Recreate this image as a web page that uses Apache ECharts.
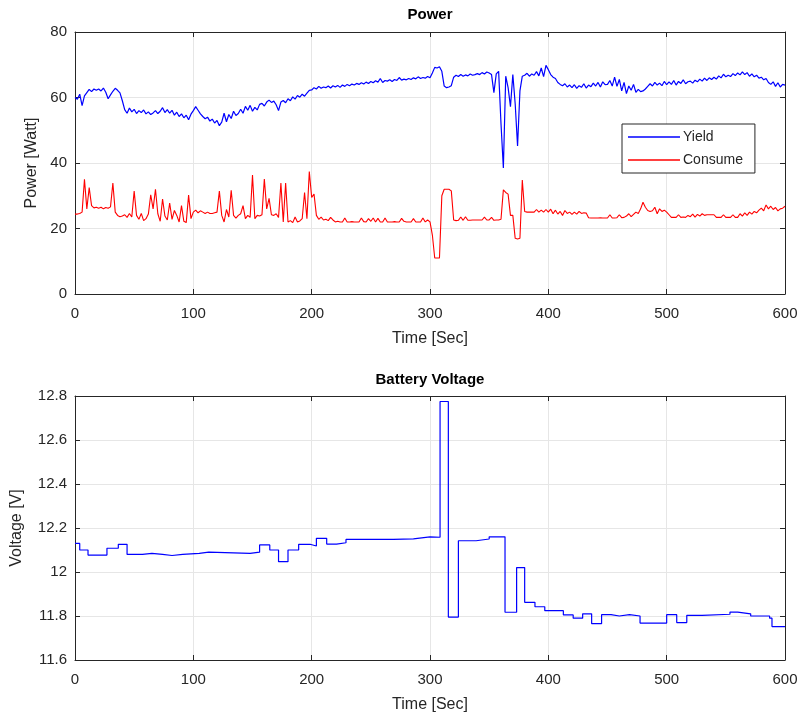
<!DOCTYPE html>
<html>
<head>
<meta charset="utf-8">
<script src="https://cdn.jsdelivr.net/npm/echarts@6/dist/echarts.min.js"></script>
<style>
  html, body { margin: 0; padding: 0; background: #fff; }
  #chart { width: 803px; height: 718px; }
</style>
</head>
<body>
<div id="chart"></div>
<script>
// sample spacing of the power log, seconds
const step = 2;

// Yield [W], one value every 2 s from 0 to 600
const yieldW = [
  60.0, 59.5, 61.0, 57.5, 60.5, 61.5, 62.5, 61.8, 62.6, 62.2,
  62.6, 62.0, 62.9, 61.6, 59.6, 60.8, 61.9, 62.8, 62.2, 61.4,
  59.0, 56.3, 55.2, 56.8, 55.6, 56.4, 55.1, 56.0, 55.4, 56.2,
  55.0, 55.6, 54.8, 55.3, 56.0, 55.1, 55.8, 56.9, 55.4, 56.3,
  55.2, 56.1, 54.6, 55.5, 54.2, 55.0, 53.8, 54.6, 53.2, 54.9,
  56.0, 57.2, 56.1, 55.0, 54.2, 53.5, 54.0, 52.8, 53.4, 52.2,
  53.0, 51.4, 52.5, 55.2, 52.6, 54.8, 53.6, 55.8, 54.5, 55.1,
  56.4, 55.2, 57.3, 56.1, 57.6, 55.8, 57.0, 56.2, 57.9, 58.2,
  57.4, 58.6, 59.2, 58.5, 58.9, 57.8, 56.0, 58.6, 59.1, 58.4,
  59.6, 59.0, 60.2, 59.5, 60.6, 60.1, 61.0, 60.4, 61.3, 62.2,
  62.3, 63.0, 62.6, 63.4, 62.8, 63.2, 63.0, 63.5, 62.9, 63.6,
  63.2, 63.7, 63.1, 63.8, 63.4, 64.0, 63.6, 64.1, 63.8, 64.3,
  64.0, 64.5, 64.1, 64.7, 64.3, 64.9, 64.5, 65.1, 64.7, 65.8,
  64.6, 65.2, 65.0, 65.4, 64.9, 65.5, 65.2, 66.1, 65.3, 65.6,
  65.4, 65.8, 65.5, 66.0, 65.7, 66.3, 65.8, 66.1, 65.9, 66.4,
  66.0, 67.5, 69.2, 69.0, 69.4, 68.0, 63.5, 63.0, 63.2, 63.6,
  66.2, 66.8, 66.4, 67.0, 66.5, 66.9, 66.6, 67.2, 66.8, 67.0,
  67.3, 67.0, 67.6, 67.2, 67.8, 67.5, 67.0, 61.5, 67.2, 68.0,
  52.0, 38.5, 66.5, 63.0, 57.2, 67.0, 58.0, 45.2, 62.0, 66.5,
  66.8, 67.4, 66.5, 67.2, 66.8, 67.9, 66.6, 69.0, 66.4, 69.8,
  68.5, 67.0, 66.2, 65.8, 64.6, 64.0, 63.6, 64.2, 63.2, 63.8,
  63.0, 63.9, 62.8, 63.6, 63.1, 64.2, 62.9, 63.8, 63.3, 64.4,
  63.5, 64.6, 63.2, 64.8, 63.9, 64.0, 65.2, 63.5, 66.2, 63.4,
  65.5, 62.0, 64.6, 61.2, 63.5, 62.2, 64.0, 61.6, 62.5, 61.8,
  62.0, 62.6, 63.4, 64.2, 63.5, 64.6, 63.8, 64.4, 63.6, 64.9,
  63.9, 64.8, 64.0, 65.2, 63.8, 64.9, 64.3, 65.4, 64.2, 64.8,
  65.0, 64.4, 65.3, 64.8, 65.6, 65.0, 65.9, 65.2, 66.0, 65.5,
  66.2, 65.6, 66.6, 66.0, 67.1, 66.3, 66.8, 66.4, 67.3, 66.7,
  67.5, 66.9, 67.8, 67.0, 67.6, 66.5, 67.2, 66.3, 66.8, 65.9,
  66.2, 65.4, 65.8, 64.6, 64.0, 64.8, 63.4, 64.5, 63.2, 64.0,
  63.8
];

// Consume [W], same sampling
const consumeW = [
  24.4, 24.4, 24.6, 25.0, 35.0, 26.0, 32.5, 27.0, 26.3, 26.5,
  26.2, 26.5, 26.0, 26.4, 26.2, 26.6, 33.9, 25.0, 24.0, 23.6,
  23.8, 24.2, 23.4, 24.6, 23.5, 31.4, 24.0, 22.8, 24.6, 22.4,
  23.0, 24.4, 30.3, 26.0, 32.0, 24.5, 22.2, 29.0, 23.8, 22.6,
  27.8, 22.8, 25.5, 24.0, 22.0, 27.0, 22.2, 21.8, 30.2, 23.0,
  25.0, 25.6, 24.8, 25.4, 25.0, 24.6, 25.0, 24.6, 24.6, 24.8,
  25.0, 31.4, 24.0, 22.0, 25.8, 23.5, 31.7, 24.0, 23.2, 24.0,
  24.5, 27.0, 23.0, 24.0, 23.4, 36.3, 23.0, 24.0, 23.8, 24.2,
  35.1, 26.0, 29.2, 24.2, 24.0, 24.5, 23.4, 33.9, 22.0, 33.9,
  22.0, 22.4, 21.8, 23.5, 22.0, 22.3, 23.0, 31.0, 23.0, 37.4,
  29.5, 30.5, 24.0, 22.8, 23.5, 22.6, 22.8, 22.4, 23.4, 22.6,
  22.0, 22.2, 22.0, 22.0, 23.2, 22.0, 22.0, 22.1, 22.0, 22.0,
  22.0, 23.2, 22.1, 22.0, 23.0, 22.2, 23.2, 22.0, 23.1, 22.0,
  22.0, 23.2, 22.0, 22.0, 22.0, 22.1, 22.0, 22.0, 23.1, 22.2,
  22.0, 22.0, 22.0, 23.0, 22.0, 22.0, 22.0, 23.2, 22.0, 22.6,
  22.0, 18.0, 11.0, 11.0, 11.0, 30.0, 32.0, 32.0, 32.0, 31.5,
  22.6, 22.4, 22.5, 23.5, 22.5, 23.6, 22.5, 22.5, 22.6, 22.6,
  22.6, 22.6, 22.6, 23.5, 22.6, 22.6, 23.4, 22.5, 22.6, 22.6,
  22.8, 31.8, 31.0, 30.5, 24.0, 24.0, 17.0, 16.8, 17.0, 34.8,
  25.2, 25.0, 25.0, 25.0, 25.0, 25.8, 25.0, 25.6, 25.0, 25.8,
  25.0, 25.9, 24.5, 25.6, 24.4, 25.2, 24.0, 25.5, 24.6, 25.0,
  24.3, 25.0, 24.4, 25.2, 24.6, 24.8, 24.7, 23.3, 23.2, 23.2,
  23.2, 23.2, 23.3, 23.2, 23.2, 23.2, 24.2, 23.2, 23.2, 23.3,
  24.2, 23.3, 23.4, 23.8, 24.5, 23.6, 24.3, 25.0, 24.6, 26.0,
  28.0, 26.5, 25.5, 25.2, 25.4, 26.5, 24.5, 26.0, 25.2, 25.6,
  25.0, 24.2, 23.4, 23.4, 23.4, 24.2, 23.4, 23.5, 23.4, 24.0,
  23.6, 24.4, 23.5, 24.3, 23.8, 24.5, 24.0, 24.2, 24.2, 24.2,
  24.2, 23.4, 23.4, 23.4, 24.2, 23.4, 23.4, 23.4, 24.2, 23.4,
  23.4, 24.5, 23.8, 24.8, 24.0, 25.0, 24.4, 25.2, 24.8, 25.6,
  26.2, 25.4, 27.2, 26.0, 26.8, 25.8, 26.4, 25.4, 26.0, 26.2,
  26.8
];

// Battery voltage: times [s] where the reading changes, and the new reading [V]
const voltTimes = [
  0, 4, 11, 27, 36.6, 44, 57, 65, 74, 82, 91, 105, 113, 148, 156, 164.6, 172, 180,
  189, 198.6, 204, 212.7, 221, 229, 269, 286, 300, 308.5, 315.5, 324, 339, 350,
  363.4, 373.2, 380, 388.7, 397, 412.7, 421, 429, 436.6, 445, 453, 460, 468.6,
  477.5, 500, 508.5, 517, 530, 553.5, 560, 571, 587, 589, 600
];
const voltValues = [
  12.13, 12.10, 12.077, 12.108, 12.126, 12.08, 12.085, 12.08, 12.075, 12.08, 12.085,
  12.09, 12.085, 12.09, 12.123, 12.10, 12.047, 12.10, 12.126, 12.118, 12.153, 12.127,
  12.133, 12.148, 12.151, 12.16, 12.158, 12.775, 11.795, 12.142, 12.15, 12.16,
  11.817, 12.02, 11.862, 11.842, 11.824, 11.805, 11.79, 11.81, 11.765, 11.806, 11.80,
  11.806, 11.80, 11.768, 11.806, 11.77, 11.803, 11.808, 11.818, 11.81, 11.80, 11.79,
  11.752, 11.75
];

const timeTicks = [0, 100, 200, 300, 400, 500, 600];

const axisColor = '#262626';
const gridColor = '#e6e6e6';
const fontFamily = 'Liberation Sans, Arial, sans-serif';

const chart = echarts.init(document.getElementById('chart'), null, { renderer: 'canvas' });

function timeAxis(gridIndex, pos, withText) {
  return {
    type: 'value',
    gridIndex: gridIndex,
    position: pos,
    min: timeTicks[0],
    max: timeTicks[timeTicks.length - 1],
    interval: 100,
    name: withText ? 'Time [Sec]' : '',
    nameLocation: 'middle',
    nameGap: 37,
    nameTextStyle: { fontFamily: fontFamily, fontSize: 16, color: axisColor },
    axisLine: { show: true, onZero: false, lineStyle: { color: axisColor, width: 1 } },
    axisTick: { show: true, inside: true, length: 5, lineStyle: { color: axisColor } },
    axisLabel: { show: withText, margin: 12, fontFamily: fontFamily, fontSize: 15, color: axisColor },
    splitLine: { show: withText, lineStyle: { color: gridColor, width: 1 } }
  };
}

function valueAxis(gridIndex, pos, withText, min, max, interval, name, gap) {
  return {
    type: 'value',
    gridIndex: gridIndex,
    position: pos,
    min: min,
    max: max,
    interval: interval,
    name: withText ? name : '',
    nameLocation: 'middle',
    nameGap: gap,
    nameTextStyle: { fontFamily: fontFamily, fontSize: 16, color: axisColor },
    axisLine: { show: true, onZero: false, lineStyle: { color: axisColor, width: 1 } },
    axisTick: { show: true, inside: true, length: 5, lineStyle: { color: axisColor } },
    axisLabel: {
      show: withText, margin: 8, fontFamily: fontFamily, fontSize: 15, color: axisColor,
      formatter: v => String(Number(v.toFixed(1)))
    },
    splitLine: { show: withText, lineStyle: { color: gridColor, width: 1 } }
  };
}

const option = {
  backgroundColor: '#fff',
  animation: false,
  title: [
    { text: 'Power', left: 430, top: 7, textAlign: 'center', padding: 0,
      textStyle: { fontFamily: fontFamily, fontSize: 15, fontWeight: 'bold', color: '#000' } },
    { text: 'Battery Voltage', left: 430, top: 372, textAlign: 'center', padding: 0,
      textStyle: { fontFamily: fontFamily, fontSize: 15, fontWeight: 'bold', color: '#000' } }
  ],
  legend: {
    data: ['Yield', 'Consume'],
    orient: 'vertical',
    left: 622,
    top: 124,
    padding: [6, 12, 6, 6],
    itemGap: 9,
    itemWidth: 52,
    itemHeight: 1.5,
    icon: 'rect',
    borderColor: axisColor,
    borderWidth: 1,
    borderRadius: 0,
    backgroundColor: '#fff',
    textStyle: { fontFamily: fontFamily, fontSize: 14, color: axisColor, padding: [0, 0, 0, -2] }
  },
  grid: [
    { left: 75, right: 18, top: 32, height: 262 },
    { left: 75, right: 18, top: 396, height: 264 }
  ],
  xAxis: [
    timeAxis(0, 'bottom', true),
    timeAxis(0, 'top', false),
    timeAxis(1, 'bottom', true),
    timeAxis(1, 'top', false)
  ],
  yAxis: [
    valueAxis(0, 'left', true, 0, 80, 20, 'Power [Watt]', 35),
    valueAxis(0, 'right', false, 0, 80, 20, '', 0),
    valueAxis(1, 'left', true, 11.6, 12.8, 0.2, 'Voltage [V]', 50),
    valueAxis(1, 'right', false, 11.6, 12.8, 0.2, '', 0)
  ],
  series: [
    {
      name: 'Yield', type: 'line', xAxisIndex: 0, yAxisIndex: 0,
      symbol: 'none', color: '#0000ff',
      lineStyle: { width: 1.2, color: '#0000ff' },
      data: yieldW.map((v, i) => [i * step, v])
    },
    {
      name: 'Consume', type: 'line', xAxisIndex: 0, yAxisIndex: 0,
      symbol: 'none', color: '#ff0000',
      lineStyle: { width: 1.1, color: '#ff0000' },
      data: consumeW.map((v, i) => [i * step, v])
    },
    {
      name: 'Voltage', type: 'line', xAxisIndex: 2, yAxisIndex: 2,
      symbol: 'none', step: 'end', color: '#0000ff',
      lineStyle: { width: 1.2, color: '#0000ff' },
      data: voltTimes.map((t, i) => [t, voltValues[i]])
    }
  ]
};

chart.setOption(option);
</script>
</body>
</html>
